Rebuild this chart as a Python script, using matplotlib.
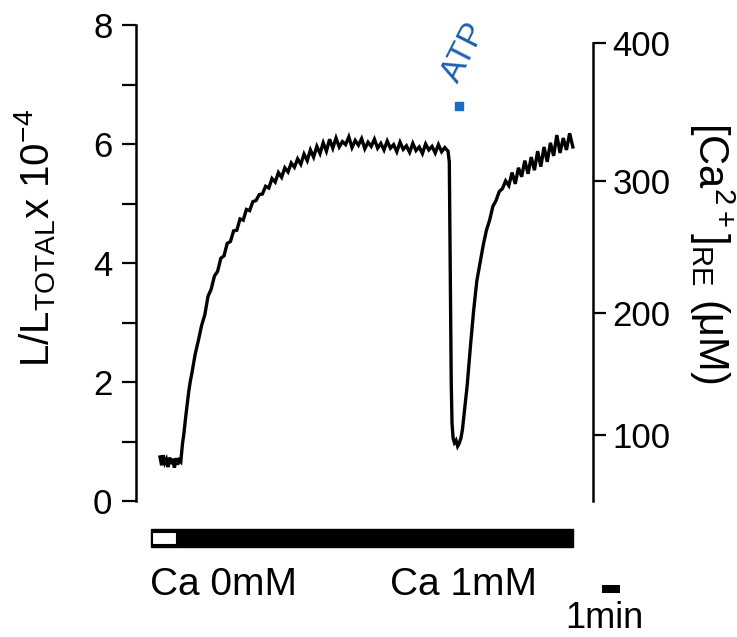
import numpy as np
import matplotlib
matplotlib.use("Agg")
import matplotlib.pyplot as plt
from matplotlib.patches import Rectangle

plt.rcParams['font.family'] = ['Liberation Sans', 'DejaVu Sans']
plt.rcParams['mathtext.fontset'] = 'custom'
plt.rcParams['mathtext.rm'] = 'Liberation Sans'

# trace: time (min) and luminescence L/Ltotal (x 1e-4)
t_base = [0.0, 0.1, 0.2, 0.3, 0.4, 0.5, 0.6, 0.7, 0.8, 0.9, 1.0, 1.1, 1.2, 1.3]
l_base = [0.74, 0.60, 0.77, 0.64, 0.70, 0.57, 0.73, 0.62, 0.71, 0.56, 0.72, 0.61, 0.69, 0.66]

t_rise = [1.4, 1.5, 1.6, 1.7, 1.8, 1.9, 2.0, 2.2, 2.4, 2.6, 2.8, 3.0, 3.2, 3.4, 3.6,
          3.8, 4.0, 4.2, 4.4, 4.6, 4.8, 5.0, 5.2, 5.4, 5.6, 5.8, 6.0, 6.2, 6.4, 6.6,
          6.8, 7.0, 7.2, 7.4, 7.6, 7.8, 8.0, 8.2, 8.4, 8.6, 8.8, 9.0, 9.2, 9.4, 9.6,
          9.8, 10.0, 10.2, 10.4, 10.6, 10.8]
l_rise = [0.95, 1.15, 1.40, 1.62, 1.85, 2.02, 2.16, 2.47, 2.70, 2.95, 3.13, 3.44, 3.56, 3.78, 3.86,
          4.08, 4.12, 4.33, 4.36, 4.54, 4.55, 4.74, 4.72, 4.90, 4.88, 5.03, 5.05, 5.15, 5.16, 5.29,
          5.26, 5.42, 5.36, 5.52, 5.44, 5.60, 5.53, 5.68, 5.61, 5.75, 5.66, 5.83, 5.72, 5.90, 5.78,
          5.96, 5.84, 6.02, 5.88, 6.08, 5.93]

t_plat = [11.0, 11.2, 11.4, 11.6, 11.8, 12.0, 12.2, 12.4, 12.6, 12.8, 13.0, 13.2, 13.4, 13.6,
          13.8, 14.0, 14.2, 14.4, 14.6, 14.8, 15.0, 15.2, 15.4, 15.6, 15.8, 16.0, 16.2, 16.4,
          16.6, 16.8, 17.0, 17.2, 17.4, 17.6, 17.8, 18.0]
l_plat = [6.10, 5.95, 6.04, 5.99, 6.12, 5.94, 6.06, 5.98, 6.09, 5.92, 6.03, 5.96, 6.08, 5.93,
          6.01, 5.90, 6.05, 5.93, 5.99, 5.87, 6.03, 5.91, 5.97, 5.86, 6.01, 5.89, 5.95, 5.84,
          6.00, 5.90, 5.96, 5.85, 5.99, 5.87, 5.94, 5.88]

t_atp = [18.08, 18.12, 18.16, 18.2, 18.25, 18.32, 18.4, 18.5, 18.6, 18.7, 18.8,
         18.9, 19.0, 19.2, 19.4, 19.6, 19.8, 20.0, 20.2, 20.4, 20.6, 20.8, 21.0, 21.2,
         21.4, 21.6, 21.8, 22.0, 22.2, 22.4, 22.6, 22.8, 23.0, 23.2, 23.4, 23.6, 23.8,
         24.0, 24.2, 24.4, 24.6, 24.8, 25.0, 25.2, 25.4, 25.6, 25.8]
l_atp = [5.70, 4.50, 3.20, 2.00, 1.30, 1.05, 0.98, 1.02, 0.92, 0.97, 1.05,
         1.20, 1.45, 1.95, 2.60, 3.20, 3.70, 4.00, 4.30, 4.55, 4.72, 4.95, 5.05, 5.20,
         5.25, 5.38, 5.30, 5.52, 5.33, 5.60, 5.45, 5.72, 5.50, 5.78, 5.56, 5.88, 5.62,
         5.95, 5.70, 6.02, 5.80, 6.15, 5.85, 6.10, 5.90, 6.18, 5.95]

time = t_base + t_rise + t_plat + t_atp
lum = l_base + l_rise + l_plat + l_atp

# right axis calibration: [Ca2+] ticks and their position on the L/Ltotal scale
ca_ticks = [100, 200, 300, 400]
ca_pos = [1.11, 3.16, 5.37, 7.70]

atp_t, atp_y = 18.7, 6.64

fig = plt.figure(figsize=(7.37, 6.37), dpi=100)
ax = fig.add_axes([136/737, 136/637, 457/737, 476/637])
ax.plot(time, lum, color='black', lw=2.4, solid_joinstyle='miter')
ax.set_xlim(-1.5, 27.06)
ax.set_ylim(0, 8)

for s in ['top', 'bottom', 'right']:
    ax.spines[s].set_visible(False)
ax.spines['left'].set_linewidth(1.8)
ax.set_xticks([])
ax.set_yticks(range(0, 9))
ax.set_yticklabels([str(v) if v % 2 == 0 else '' for v in range(0, 9)])
ax.tick_params(axis='y', length=10, width=1.6, pad=7, labelsize=25)

ax2 = ax.twinx()
ax2.set_ylim(0, 8)
for s in ['top', 'bottom', 'left']:
    ax2.spines[s].set_visible(False)
ax2.spines['right'].set_linewidth(1.8)
ax2.spines['right'].set_bounds(0, ca_pos[-1])
ax2.set_yticks(ca_pos)
ax2.set_yticklabels([str(v) for v in ca_ticks])
ax2.tick_params(axis='y', length=9, width=1.6, pad=5, labelsize=25)

fig.text(35/737, 1 - 238/637, r'L/L$_{\mathregular{TOTAL}}$x 10$^{\mathregular{-4}}$',
         rotation=90, ha='center', va='center', fontsize=29)
fig.text(712/737, 1 - 253/637, r'[Ca$^{\mathregular{2+}}$]$_{\mathregular{RE}}$ (μM)',
         rotation=270, ha='center', va='center', fontsize=30)

# ATP application
ax.plot([atp_t], [atp_y], 's', color='#1b6cc2', ms=6, clip_on=False)
ax.text(18.6, 7.0, 'ATP', color='#1c5fae', fontsize=24, rotation=63,
        rotation_mode='anchor', ha='left', va='baseline', clip_on=False)

# solution bar
ax.add_patch(Rectangle((-0.56, -0.77), 26.36, 0.30, facecolor='black',
                       edgecolor='black', lw=1, clip_on=False))
ax.add_patch(Rectangle((-0.48, -0.72), 1.5, 0.20, facecolor='white',
                       edgecolor='black', lw=0.8, clip_on=False))
ax.text(-0.62, -1.41, 'Ca 0mM', fontsize=28, ha='left', va='center', clip_on=False)
ax.text(14.4, -1.41, 'Ca 1mM', fontsize=28, ha='left', va='center', clip_on=False)

# scale bar 1 min
ax.plot([27.6, 28.75], [-1.48, -1.48], color='black', lw=5.8, solid_capstyle='butt', clip_on=False)
ax.text(27.75, -2.14, '1min', fontsize=26, ha='center', va='baseline', clip_on=False)

fig.savefig('out.png', dpi=100)
